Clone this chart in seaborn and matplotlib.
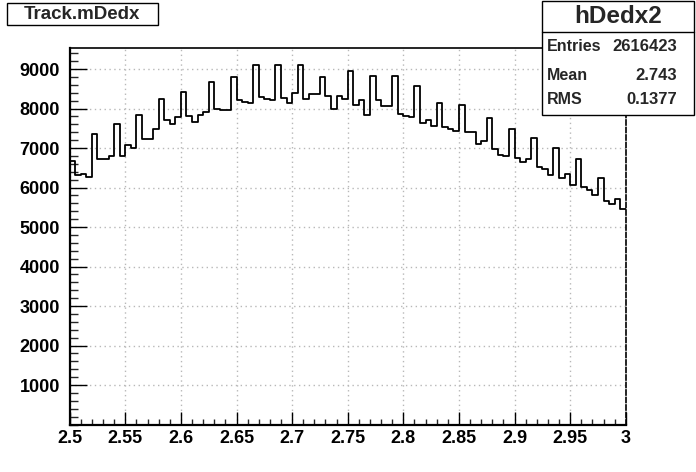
import numpy as np
import pandas as pd
import matplotlib
matplotlib.use("Agg")
import matplotlib.pyplot as plt
import seaborn as sns
from matplotlib.patches import Rectangle
from matplotlib.ticker import FixedLocator, MultipleLocator

# ---------------- data ----------------
x_min = 2.5
x_max = 3.0
n_bins = 100
counts = [
    6680, 6310, 6330, 6260, 7343, 6732, 6732, 6808, 7607, 6808,
    7088, 7012, 7828, 7216, 7216, 7471, 8235, 7700, 7607, 7777,
    8414, 7802, 7658, 7828, 7904, 8669, 7981, 7955, 7955, 8796,
    8210, 8167, 8142, 9102, 8286, 8244, 8218, 9102, 8261, 8142,
    8397, 9102, 8244, 8371, 8371, 8796, 8312, 7989, 8312, 8244,
    8958, 8082, 8210, 7828, 8822, 8210, 8057, 8057, 8822, 7853,
    7802, 7777, 8568, 7624, 7700, 7547, 8133, 7522, 7488, 7420,
    8082, 7394, 7394, 7114, 7190, 7751, 6978, 6833, 6808, 7471,
    6757, 6655, 6723, 7241, 6528, 6460, 6324, 7012, 6247, 6332,
    6060, 6723, 6001, 5941, 5805, 6230, 5661, 5585, 5720, 5457,
]
x_ticks = [2.5, 2.55, 2.6, 2.65, 2.7, 2.75, 2.8, 2.85, 2.9, 2.95, 3.0]
x_tick_labels = ["2.5", "2.55", "2.6", "2.65", "2.7", "2.75", "2.8", "2.85", "2.9", "2.95", "3"]
y_ticks = [1000, 2000, 3000, 4000, 5000, 6000, 7000, 8000, 9000]
y_tick_labels = ["1000", "2000", "3000", "4000", "5000", "6000", "7000", "8000", "9000"]
title_text = "Track.mDedx"
stats_name = "hDedx2"
stats_labels = ["Entries", "Mean", "RMS"]
stats_values = ["2616423", "2.743", "0.1377"]

# ---------------- plot ----------------
sns.set_style("white")
plt.rcParams["font.family"] = ["Liberation Sans", "DejaVu Sans"]
plt.rcParams["font.weight"] = "bold"

edges = np.linspace(x_min, x_max, n_bins + 1)
centers = (edges[:-1] + edges[1:]) / 2
df = pd.DataFrame({"mDedx": centers, "count": counts})

fig = plt.figure(figsize=(6.96, 4.72), dpi=100)
ax = fig.add_axes([0.1001, 0.1006, 0.799, 0.7983])

sns.histplot(data=df, x="mDedx", weights="count", bins=n_bins, binrange=(x_min, x_max),
             element="step", fill=False, color="black", linewidth=1.3, ax=ax)

ax.set_xlim(x_min, x_max)
ax.set_ylim(0, 9539)
ax.set_xlabel("")
ax.set_ylabel("")

ax.xaxis.set_major_locator(FixedLocator(x_ticks))
ax.set_xticklabels(x_tick_labels)
ax.xaxis.set_minor_locator(MultipleLocator(0.01))
ax.yaxis.set_major_locator(FixedLocator(y_ticks))
ax.set_yticklabels(y_tick_labels)
ax.yaxis.set_minor_locator(MultipleLocator(200))

ax.tick_params(axis="x", which="major", direction="in", length=9.5, width=1.0,
               labelsize=13, pad=4, colors="black")
ax.tick_params(axis="x", which="minor", direction="in", length=4.5, width=1.0)
ax.tick_params(axis="y", which="major", direction="in", length=12, width=1.0,
               labelsize=13, pad=7, colors="black")
ax.tick_params(axis="y", which="minor", direction="in", length=5.5, width=1.0)
ax.tick_params(which="both", bottom=True, left=True, top=False, right=False)
for lab in ax.get_xticklabels() + ax.get_yticklabels():
    lab.set_fontweight("bold")

ax.grid(True, which="major", color="#b8b8b8", linestyle=(0, (1, 2.5)), linewidth=1.0)
ax.set_axisbelow(True)

for side in ["left", "bottom", "top", "right"]:
    ax.spines[side].set_visible(True)
    ax.spines[side].set_color("black")
    ax.spines[side].set_linewidth(1.2)
ax.spines["left"].set_linewidth(1.6)
ax.spines["bottom"].set_linewidth(1.6)
ax.spines["right"].set_linestyle((0, (3, 1.5)))

# title box
fig.patches.append(Rectangle((0.0096, 0.947), 0.217, 0.046, transform=fig.transFigure,
                             fill=True, facecolor="white", edgecolor="black", linewidth=1.0))
fig.text(0.118, 0.969, title_text, ha="center", va="center", fontsize=13.5, fontweight="bold")

# stats box
sb_left, sb_right = 0.7785, 0.997
sb_bottom, sb_top = 0.756, 0.998
fig.patches.append(Rectangle((sb_left, sb_bottom), sb_right - sb_left, sb_top - sb_bottom,
                             transform=fig.transFigure, facecolor="white", edgecolor="black",
                             linewidth=1.0, zorder=5))
fig.add_artist(plt.Line2D([sb_left, sb_right], [0.9316, 0.9316], transform=fig.transFigure,
                          color="black", linewidth=1.0, zorder=6))
fig.text((sb_left + sb_right) / 2, 0.965, stats_name, ha="center", va="center",
         fontsize=17.5, fontweight="bold", zorder=7)
row_y = [0.902, 0.841, 0.789]
for lab, val, yy in zip(stats_labels, stats_values, row_y):
    fig.text(0.7855, yy, lab, ha="left", va="center", fontsize=11.5, fontweight="bold", zorder=7)
    fig.text(0.9723, yy, val, ha="right", va="center", fontsize=12, fontweight="bold", zorder=7)

fig.savefig("out.png", dpi=100)
